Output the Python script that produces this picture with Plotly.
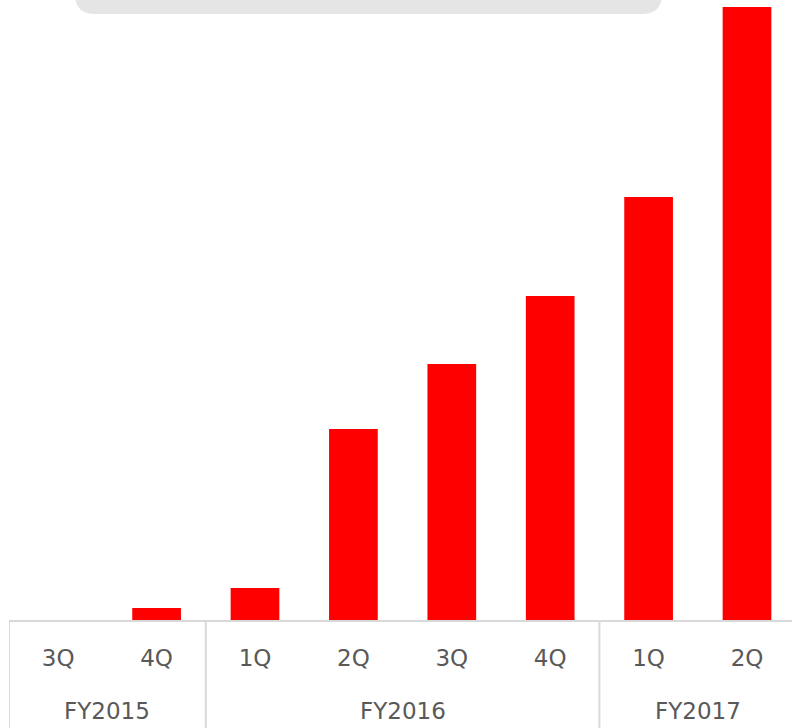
import plotly.graph_objects as go

years = ["FY2015", "FY2015", "FY2016", "FY2016", "FY2016", "FY2016", "FY2017", "FY2017"]
quarters = ["3Q", "4Q", "1Q", "2Q", "3Q", "4Q", "1Q", "2Q"]
values = [0, 12, 32, 191, 256, 324, 423, 613]

W, H = 792, 728
ML, MT, MB = 9, 0, 108
PW, PH = W - ML, H - MT - MB
BAND = 98.4
GRID = "#d9d9d9"
TXT = "#595959"
FONT = "DejaVu Sans, Verdana, sans-serif"
FS = 23

def px_x(p):
    return (p - ML) / PW

def px_y(p):
    return 1 - (p - MT) / PH

idx = list(range(len(quarters)))

fig = go.Figure()
fig.add_trace(go.Bar(
    x=idx,
    y=values,
    width=0.495,
    marker=dict(color="#ff0000", line=dict(width=0)),
    hoverinfo="skip",
))

# group boundaries, dividers and group labels
groups = []
for i, yv in enumerate(years):
    if not groups or groups[-1][0] != yv:
        groups.append([yv, i, i])
    else:
        groups[-1][2] = i

bounds = sorted({g[1] - 0.5 for g in groups} | {g[2] + 0.5 for g in groups})
for b in bounds:
    fig.add_shape(type="line", xref="x", yref="paper",
                  x0=b, x1=b, y0=0, y1=px_y(H + 5),
                  line=dict(color=GRID, width=2))

for name, a, z in groups:
    fig.add_annotation(x=(a + z) / 2, y=px_y(711), xref="x", yref="paper",
                       text=name, showarrow=False, yanchor="middle",
                       font=dict(family=FONT, size=FS, color=TXT))

# decorative rounded box at top (cut off)
x0, x1 = px_x(75), px_x(662)
yb = px_y(14)
ytop = px_y(-40)
rx = 20 / PW
ry = 20 / PH
path = (f"M {x0},{ytop} L {x0},{yb + ry} Q {x0},{yb} {x0 + rx},{yb} "
        f"L {x1 - rx},{yb} Q {x1},{yb} {x1},{yb + ry} L {x1},{ytop} Z")
fig.add_shape(type="path", path=path, xref="paper", yref="paper",
              fillcolor="#e5e5e5", line=dict(width=0), layer="below")

fig.update_layout(
    width=W, height=H,
    margin=dict(l=ML, r=0, t=MT, b=MB, pad=0, autoexpand=False),
    plot_bgcolor="white", paper_bgcolor="white",
    showlegend=False,
    font=dict(family=FONT, size=FS, color=TXT),
    xaxis=dict(
        range=[-0.5, -0.5 + PW / BAND],
        tickmode="array", tickvals=idx, ticktext=quarters,
        showline=True, linecolor=GRID, linewidth=2,
        ticks="", showgrid=False, zeroline=False,
        automargin=False, ticklabelstandoff=16,
        tickfont=dict(family=FONT, size=FS, color=TXT),
    ),
    yaxis=dict(
        range=[0, PH], visible=False, showgrid=False, zeroline=False,
        automargin=False,
    ),
)

fig.write_html(
    "out.html",
    config={"displayModeBar": False, "staticPlot": True},
    post_script="document.body.style.margin='0';document.body.style.overflow='hidden';",
)
